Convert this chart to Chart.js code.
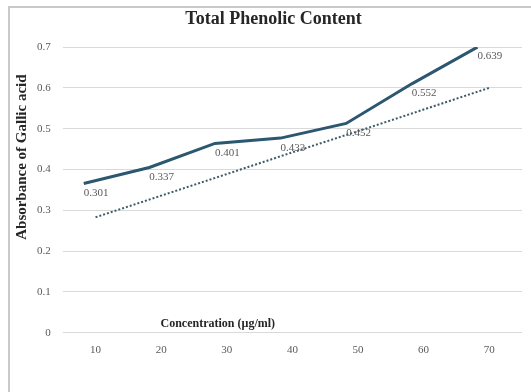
<!DOCTYPE html>
<html><head><meta charset="utf-8">
<script src="https://cdn.jsdelivr.net/npm/chart.js@4"></script>
<style>
html,body{margin:0;padding:0;background:#fff;}
#wrap{position:relative;width:531px;height:392px;overflow:hidden;background:#fff;}
#frame{position:absolute;left:8px;top:6px;width:600px;height:500px;border-left:2px solid #c9c9c9;border-top:2px solid #c9c9c9;}
canvas{position:absolute;left:0;top:0;}
</style></head>
<body><div id="wrap"><div id="frame"></div><canvas id="c" width="531" height="392"></canvas></div>
<script>
const categories = ['10', '20', '30', '40', '50', '60', '70'];
const concentration = [10, 20, 30, 40, 50, 60, 70];
const absorbance = [0.366, 0.405, 0.464, 0.477, 0.513, 0.610, 0.700];
const pointLabels = ['0.301', '0.337', '0.401', '0.433', '0.452', '0.552', '0.639'];
const trendValues = [0.283, 0.336, 0.389, 0.442, 0.494, 0.547, 0.600];
const chartTitle = 'Total Phenolic Content';
const xTitle = 'Concentration (\u00b5g/ml)';
const yTitle = 'Absorbance of Gallic acid';

const SERIF = '"Liberation Serif", "Times New Roman", serif';

const labelPlugin = {
  id: 'pointLabels',
  afterDatasetsDraw(chart) {
    const ctx = chart.ctx;
    const meta = chart.getDatasetMeta(0);
    ctx.save();
    ctx.font = '11px ' + SERIF;
    ctx.fillStyle = '#595959';
    ctx.textAlign = 'left';
    ctx.textBaseline = 'top';
    meta.data.forEach((pt, i) => {
      ctx.fillText(pointLabels[i], pt.x, pt.y + 4);
    });
    ctx.restore();
  }
};

const axisTitlePlugin = {
  id: 'axisTitles',
  afterDraw(chart) {
    const ctx = chart.ctx;
    const area = chart.chartArea;
    const ys = chart.scales.y;
    const xs = chart.scales.x;
    ctx.save();
    ctx.fillStyle = '#262626';
    ctx.font = 'bold 12px ' + SERIF;
    ctx.textAlign = 'center';
    ctx.textBaseline = 'middle';
    ctx.fillText(xTitle, xs.getPixelForValue(2) - 9, ys.getPixelForValue(0) - 9);
    ctx.font = 'bold 15px ' + SERIF;
    ctx.translate(22, area.top + area.height * 0.385);
    ctx.rotate(-Math.PI / 2);
    ctx.fillText(yTitle, 0, 0);
    ctx.restore();
  }
};

new Chart(document.getElementById('c'), {
  type: 'line',
  data: {
    labels: categories,
    datasets: [
      {
        label: 'Absorbance',
        data: concentration.map((c, i) => ({ x: c, y: absorbance[i] })),
        xAxisID: 'xm',
        borderColor: '#2b5770',
        borderWidth: 3,
        pointRadius: 0,
        tension: 0
      },
      {
        label: 'Linear trend',
        data: trendValues,
        xAxisID: 'x',
        borderColor: '#3d5a6b',
        borderWidth: 2,
        borderDash: [2, 2],
        pointRadius: 0,
        tension: 0
      }
    ]
  },
  options: {
    responsive: false,
    animation: false,
    devicePixelRatio: 1,
    layout: { padding: { left: 25, right: 9, top: 0, bottom: 24 } },
    plugins: {
      legend: { display: false },
      tooltip: { enabled: false },
      title: {
        display: true,
        text: chartTitle,
        color: '#262626',
        font: { family: SERIF, size: 18, weight: 'bold' },
        padding: { top: 9, bottom: 16.5 }
      }
    },
    scales: {
      x: {
        type: 'category',
        offset: true,
        grid: { display: false, drawTicks: false },
        border: { display: false },
        ticks: { color: '#595959', font: { family: SERIF, size: 11 }, padding: 11 }
      },
      xm: {
        type: 'linear',
        display: false,
        min: 6.8,
        max: 76.8
      },
      y: {
        min: 0,
        max: 0.7,
        grid: { color: '#d9d9d9', drawTicks: false },
        border: { display: false },
        ticks: { stepSize: 0.1, color: '#595959', font: { family: SERIF, size: 11 }, padding: 12 }
      }
    }
  },
  plugins: [labelPlugin, axisTitlePlugin]
});
</script>
</body></html>
